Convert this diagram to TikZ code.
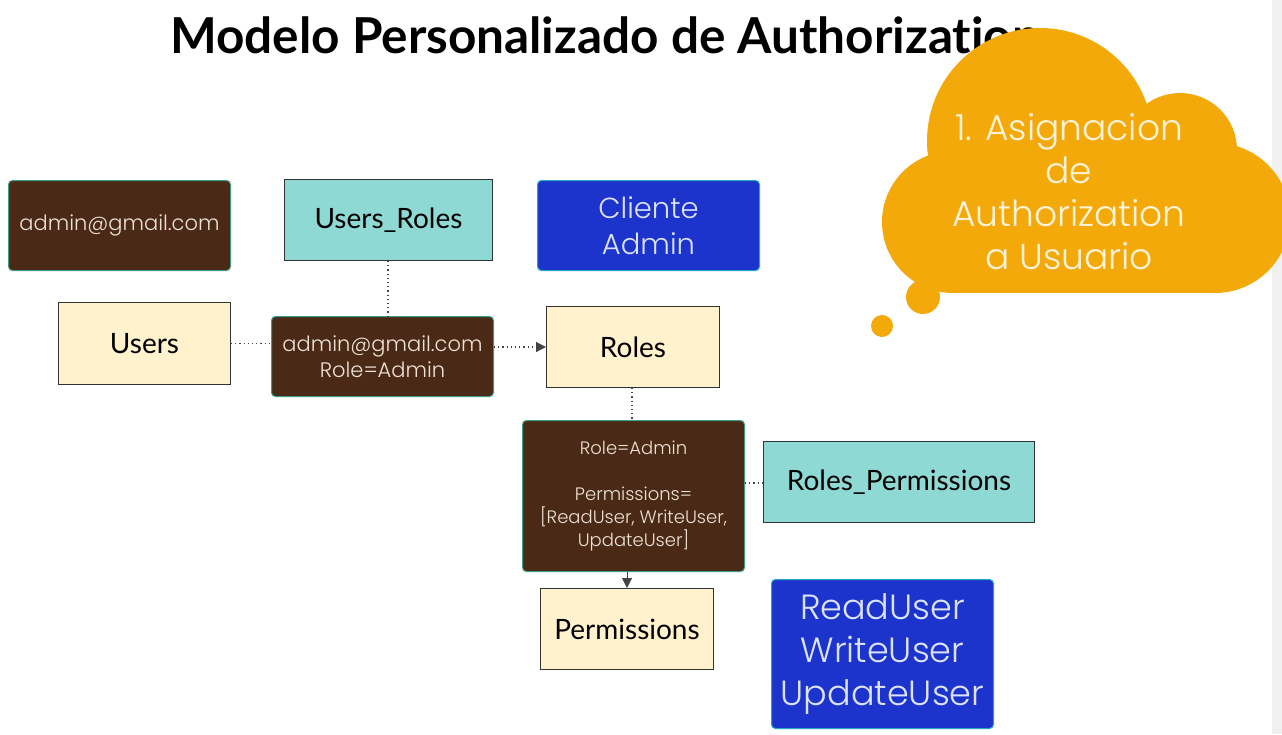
\documentclass[tikz,border=0pt]{standalone}
\usepackage{fontspec}
\setmainfont{Poppins}[UprightFont=* Light]
\newfontfamily\nun{Lato}[Ligatures=NoCommon]
\usetikzlibrary{arrows.meta}
\definecolor{brownbox}{HTML}{4A2A17}
\definecolor{brownedge}{HTML}{3E9C86}
\definecolor{browntext}{HTML}{EEE2D6}
\definecolor{tealbox}{HTML}{8FD9D5}
\definecolor{creambox}{HTML}{FFF2CC}
\definecolor{darkedge}{HTML}{333333}
\definecolor{bluebox}{HTML}{1C33CC}
\definecolor{blueedge}{HTML}{22A6C8}
\definecolor{bluetext}{HTML}{DCE3FF}
\definecolor{cloudcol}{HTML}{F4A90B}
\definecolor{cloudtext}{HTML}{FFF4DA}
\definecolor{connector}{HTML}{444444}
\tikzset{
  boxbase/.style={anchor=north west, inner sep=0pt, align=center},
  brownnode/.style={boxbase, fill=brownbox, draw=brownedge, line width=1pt, rounded corners=4pt, text=browntext},
  tealnode/.style={boxbase, fill=tealbox, draw=darkedge, line width=1pt, text=black, font=\nun\fontsize{28}{32}\selectfont},
  creamnode/.style={boxbase, fill=creambox, draw=darkedge, line width=1pt, text=black, font=\nun\fontsize{28}{32}\selectfont},
  bluenode/.style={boxbase, fill=bluebox, draw=blueedge, line width=1pt, rounded corners=4pt, text=bluetext},
  dotline/.style={draw=connector, line width=1.2pt, dash pattern=on 1.2pt off 3pt},
  tip/.style={-{Triangle[width=10pt,length=10pt]}},
}
\begin{document}
\begin{tikzpicture}[x=1pt,y=-1pt]
\useasboundingbox (0,0) rectangle (1282,734);
\fill[white] (0,0) rectangle (1282,734);
\fill[black!6] (1272,0) rectangle (1282,734);

% title
\node[anchor=west, inner sep=0pt, font=\nun\bfseries\fontsize{49.5}{54}\selectfont] (title) at (170,35) {Modelo Personalizado de Authorization};

% boxes
\node[brownnode, minimum width=222pt, minimum height=90pt, font=\fontsize{21}{24}\selectfont] (email) at (8,180) {admin@gmail.com};
\node[tealnode, minimum width=208pt, minimum height=81pt] (usersroles) at (284,179) {Users\_Roles};
\node[bluenode, minimum width=222pt, minimum height=90pt, font=\fontsize{29}{36}\selectfont] (cliente) at (537,180) {Cliente\\Admin};
\node[creamnode, minimum width=172pt, minimum height=82pt] (users) at (58,302) {Users};
\node[brownnode, minimum width=222pt, minimum height=80pt, font=\fontsize{21}{26}\selectfont] (userrole) at (271,316) {admin@gmail.com\\Role=Admin};
\node[creamnode, minimum width=173pt, minimum height=81pt] (roles) at (546,306) {Roles};
\node[brownnode, minimum width=222pt, minimum height=151pt, font=\fontsize{18}{23}\selectfont] (roleperm) at (522,420) {Role=Admin\\[23pt]Permissions=\\{[ReadUser, WriteUser,}\\UpdateUser]};
\node[tealnode, minimum width=271pt, minimum height=81pt] (rolespermissions) at (763,441) {Roles\_Permissions};
\node[creamnode, minimum width=173pt, minimum height=81pt] (permissions) at (540,588) {Permissions};
\node[bluenode, minimum width=222pt, minimum height=149pt, font=\fontsize{35}{43}\selectfont] (perms) at (771,579) {ReadUser\\WriteUser\\UpdateUser};

% connectors
\draw[dotline] (users.east) -- (users.east -| userrole.west);
\draw[dotline] (usersroles.south -| 388,0) -- (userrole.north -| 388,0);
\draw[dotline, tip] (userrole.east |- 0,347) -- (roles.west |- 0,347);
\draw[dotline] (roles.south -| 632,0) -- (roleperm.north -| 632,0);
\draw[dotline] (roleperm.east |- 0,483) -- (rolespermissions.west |- 0,483);
\draw[draw=connector, line width=1pt, tip] (roleperm.south -| 627,0) -- (permissions.north -| 627,0);

% cloud
\begin{scope}
\fill[cloudcol] (1040,141) circle (113);
\fill[cloudcol] (1180,150) circle (57);
\fill[cloudcol] (1215,218) circle (75);
\fill[cloudcol] (953,222) circle (71);
\fill[cloudcol] (953,160) rectangle (1215,293);
\fill[cloudcol] (923,297) circle (17);
\fill[cloudcol] (882,326) circle (11);
\end{scope}
\node[inner sep=0pt, align=center, text=cloudtext, font=\fontsize{36}{43}\selectfont] (cloudtext) at (1069,192) {1. Asignacion\\de\\Authorization\\a Usuario};
\end{tikzpicture}
\end{document}
